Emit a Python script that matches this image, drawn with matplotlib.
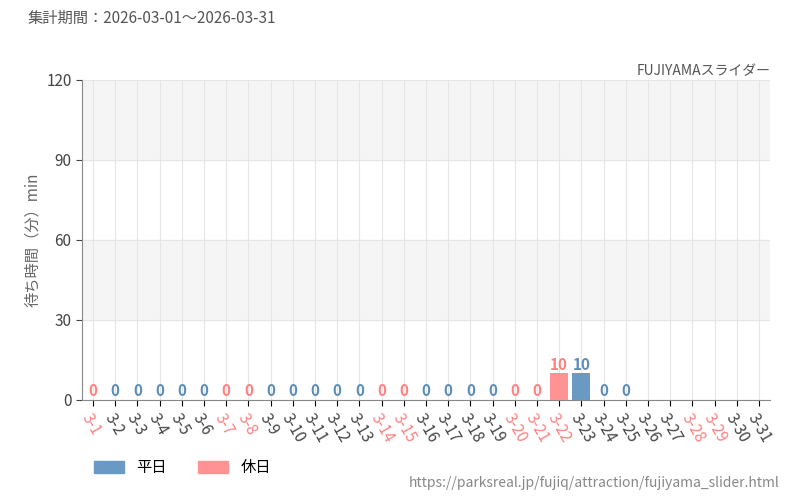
import matplotlib
matplotlib.use("Agg")
import matplotlib.pyplot as plt
from matplotlib.patches import Patch

plt.rcParams['font.family'] = ['Noto Sans CJK JP', 'DejaVu Sans']

days = ["3-%d" % d for d in range(1, 32)]
values = [0]*21 + [10, 10, 0, 0] + [None]*6
holidays = {"3-1", "3-7", "3-8", "3-14", "3-15", "3-20", "3-21", "3-22", "3-28", "3-29"}
blue = "#6a9ac4"
red = "#ff9393"
blue_txt = "#5b8db8"
red_txt = "#ff8080"

fig = plt.figure(figsize=(8, 5), dpi=100)
ax = fig.add_axes([0.1025, 0.2, 0.86, 0.64])

ax.axhspan(90, 120, color="#f5f5f5", zorder=0)
ax.axhspan(30, 60, color="#f5f5f5", zorder=0)

x = range(len(days))
for i, (d, v) in enumerate(zip(days, values)):
    c = red if d in holidays else blue
    tc = red_txt if d in holidays else blue_txt
    if v is None:
        continue
    ax.bar(i, v, width=0.8, color=c, zorder=3)
    ax.text(i, v + 0.3, str(v), ha="center", va="bottom", fontsize=11,
            fontweight="bold", color=tc, zorder=4)

ax.set_xlim(-0.5, len(days) - 0.5)
ax.set_ylim(0, 120)
ax.set_yticks([0, 30, 60, 90, 120])
ax.set_xticks(list(x))
ax.set_xticklabels(days, rotation=-60, ha="left", rotation_mode="anchor", fontsize=11)
for lab in ax.get_xticklabels():
    lab.set_color(red_txt if lab.get_text() in holidays else "#444444")
ax.tick_params(axis="y", labelsize=11, colors="#444444", length=4)
ax.tick_params(axis="x", length=4)
ax.grid(True, color="#e6e6e6", linewidth=0.8, zorder=1)
for s in ["top", "right"]:
    ax.spines[s].set_visible(False)
ax.spines["left"].set_color("#888888")
ax.spines["bottom"].set_color("#888888")
ax.set_ylabel("待ち時間（分）min", fontsize=11, color="#666666")

fig.text(0.035, 0.955, "集計期間：2026-03-01～2026-03-31", fontsize=11, color="#555555")
fig.text(0.963, 0.85, "FUJIYAMAスライダー", fontsize=10, color="#555555", ha="right")
fig.text(0.975, 0.025, "https://parksreal.jp/fujiq/attraction/fujiyama_slider.html",
         fontsize=10, color="#888888", ha="right")
fig.legend(handles=[Patch(color=blue, label="平日"), Patch(color=red, label="休日")],
           loc="lower left", bbox_to_anchor=(0.1, 0.02), ncol=2, frameon=False,
           fontsize=11, handlelength=2.0, handleheight=0.9)

fig.savefig("out.png", dpi=100)
